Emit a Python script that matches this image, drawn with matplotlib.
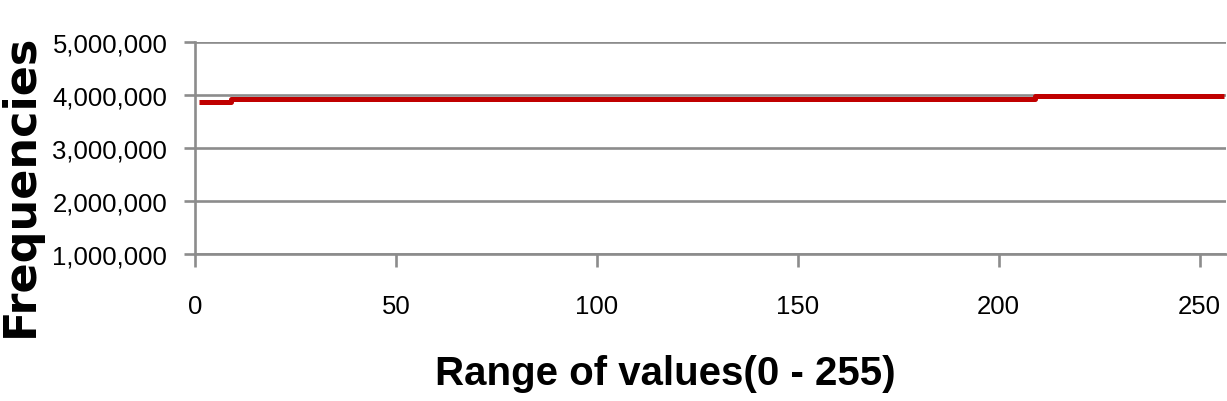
import matplotlib

matplotlib.use("Agg")
import matplotlib.pyplot as plt

# Histogram of pixel values: nearly flat, with two small steps
seg_start = [1, 9, 209]
seg_end = [9, 209, 256]
seg_level = [3870000, 3920000, 3974000]

x_ticks = [0, 50, 100, 150, 200, 250]
y_ticks = [1000000, 2000000, 3000000, 4000000, 5000000]
y_tick_labels = ["1,000,000", "2,000,000", "3,000,000", "4,000,000", "5,000,000"]


def main():
    fig = plt.figure(figsize=(12.27, 4.02), dpi=100)
    ax = fig.add_axes([0.159, 0.366, 0.84, 0.527])

    # Build the step line from the segments
    xs, ys = [], []
    for start, end, level in zip(seg_start, seg_end, seg_level):
        xs += [start, end]
        ys += [level, level]
    ax.plot(xs, ys, color="#c00000", linewidth=3.6, solid_capstyle="butt", zorder=3)

    ax.set_xlim(0, 256.5)
    ax.set_ylim(1000000, 5000000)

    grid_color = "#8c8c8c"
    ax.set_yticks(y_ticks)
    ax.set_yticklabels(y_tick_labels, family="Liberation Sans", fontsize=18.5)
    ax.set_xticks(x_ticks)
    ax.set_xticklabels([str(t) for t in x_ticks], family="Liberation Sans", fontsize=18.5)
    ax.grid(axis="y", color=grid_color, linewidth=1.9)
    ax.tick_params(axis="y", length=8, width=1.9, color=grid_color, pad=12)
    ax.tick_params(axis="x", length=9, width=1.9, color=grid_color, pad=20)

    for side in ["top", "right"]:
        ax.spines[side].set_visible(False)
    for side in ["left", "bottom"]:
        ax.spines[side].set_color(grid_color)
        ax.spines[side].set_linewidth(1.9)

    fig.text(0.542, 0.042, "Range of values(0 - 255)", ha="center", va="baseline",
             family="Liberation Sans", fontweight="bold", fontsize=29)
    fig.text(0.0163, 0.539, "Frequencies", ha="center", va="center", rotation=90,
             family="DejaVu Sans", fontweight="bold", fontsize=32)

    fig.savefig("out.png", dpi=100)


if __name__ == "__main__":
    main()
